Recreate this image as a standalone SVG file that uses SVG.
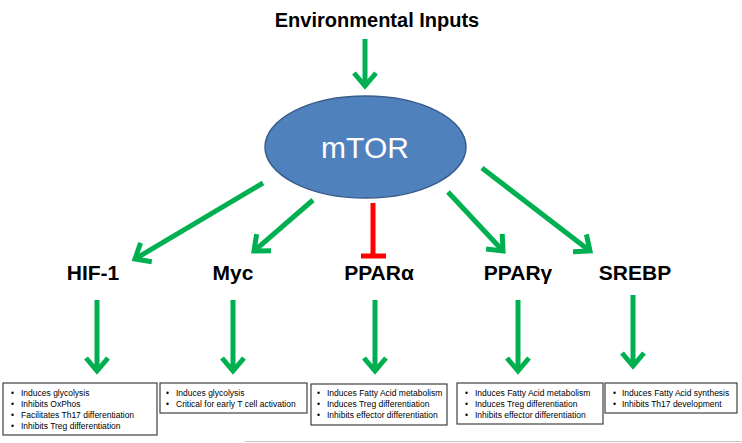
<svg xmlns="http://www.w3.org/2000/svg" width="742" height="443" viewBox="0 0 742 443">
<style>
.title{font-family:"Liberation Sans",Arial,sans-serif;font-weight:bold;font-size:20px;fill:#000;text-anchor:middle}
.lbl{font-family:"Liberation Sans",Arial,sans-serif;font-weight:bold;font-size:21px;fill:#000;text-anchor:middle}
.core{font-family:"Liberation Sans",Arial,sans-serif;font-size:30px;fill:#fff;text-anchor:middle}
.box{fill:#fff;stroke:#404040;stroke-width:1.2}
.bt{font-family:"Liberation Sans",Arial,sans-serif;font-size:8.5px;fill:#000}
.g{stroke:#00B050;stroke-width:5;fill:none;marker-end:url(#ah)}
.r{stroke:#FF0000;stroke-width:5;fill:none}
</style>
<defs>
<marker id="ah" markerUnits="userSpaceOnUse" markerWidth="40" markerHeight="40" viewBox="-20 -20 40 40" refX="0" refY="0" orient="auto" overflow="visible">
<path d="M-13,-11 L0,0 L-13,11" fill="none" stroke="#00B050" stroke-width="5"/>
</marker>
</defs>
<rect width="742" height="443" fill="#fff"/>
<g id="connectors">
<line class="g" x1="365" y1="39" x2="365" y2="86"/>
<line class="g" x1="263" y1="183" x2="135" y2="259"/>
<line class="g" x1="313" y1="200" x2="254" y2="251"/>
<line class="g" x1="448" y1="192" x2="503" y2="251"/>
<line class="g" x1="482" y1="168" x2="590" y2="251"/>
<g id="inhibit"><line class="r" x1="373" y1="203" x2="373" y2="257"/><line class="r" x1="361" y1="256" x2="386" y2="256"/></g>
<line class="g" x1="97" y1="300" x2="97" y2="371"/>
<line class="g" x1="233" y1="300" x2="233" y2="371"/>
<line class="g" x1="375" y1="300" x2="375" y2="371"/>
<line class="g" x1="518" y1="300" x2="518" y2="371"/>
<line class="g" x1="633" y1="295" x2="633" y2="366"/>
</g>
<g id="env"><text class="title" x="377" y="27">Environmental Inputs</text></g>
<g id="mtor"><ellipse cx="365.5" cy="147" rx="100.5" ry="51" fill="#4F81BD" stroke="#385D8A" stroke-width="1.5"/><text class="core" x="365" y="158">mTOR</text></g>
<g id="hif1"><text class="lbl" x="93" y="280">HIF-1</text></g>
<g id="myc"><text class="lbl" x="233" y="280">Myc</text></g>
<g id="pparA"><text class="lbl" x="379" y="280">PPARα</text></g>
<g id="pparG"><text class="lbl" x="518" y="280">PPARγ</text></g>
<g id="srebp"><text class="lbl" x="635" y="280">SREBP</text></g>
<g id="box-hif1"><rect class="box" x="3" y="383" width="154" height="52"/>
<text class="bt"><tspan x="11" y="396">•</tspan><tspan x="21" y="396">Induces glycolysis</tspan><tspan x="11" y="407">•</tspan><tspan x="21" y="407">Inhibits OxPhos</tspan><tspan x="11" y="418">•</tspan><tspan x="21" y="418">Facilitates Th17 differentiation</tspan><tspan x="11" y="429">•</tspan><tspan x="21" y="429">Inhibits Treg differentiation</tspan></text></g>
<g id="box-myc"><rect class="box" x="160" y="383" width="147" height="30"/>
<text class="bt"><tspan x="166" y="396">•</tspan><tspan x="176" y="396">Induces glycolysis</tspan><tspan x="166" y="407">•</tspan><tspan x="176" y="407">Critical for early T cell activation</tspan></text></g>
<g id="box-pparA"><rect class="box" x="311" y="384" width="136" height="41"/>
<text class="bt"><tspan x="317" y="396">•</tspan><tspan x="327" y="396">Induces Fatty Acid metabolism</tspan><tspan x="317" y="407">•</tspan><tspan x="327" y="407">Induces Treg differentiation</tspan><tspan x="317" y="418">•</tspan><tspan x="327" y="418">Inhibits effector differentiation</tspan></text></g>
<g id="box-pparG"><rect class="box" x="457" y="383" width="146" height="41"/>
<text class="bt"><tspan x="465" y="396">•</tspan><tspan x="475" y="396">Induces Fatty Acid metabolism</tspan><tspan x="465" y="407">•</tspan><tspan x="475" y="407">Induces Treg differentiation</tspan><tspan x="465" y="418">•</tspan><tspan x="475" y="418">Inhibits effector differentiation</tspan></text></g>
<g id="box-srebp"><rect class="box" x="605" y="383" width="132" height="30"/>
<text class="bt"><tspan x="613" y="396">•</tspan><tspan x="622" y="396">Induces Fatty Acid synthesis</tspan><tspan x="613" y="407">•</tspan><tspan x="622" y="407">Inhibits Th17  development</tspan></text></g>
<line x1="245" y1="441.5" x2="742" y2="441.5" stroke="#C8C8C8" stroke-width="1"/>
</svg>
